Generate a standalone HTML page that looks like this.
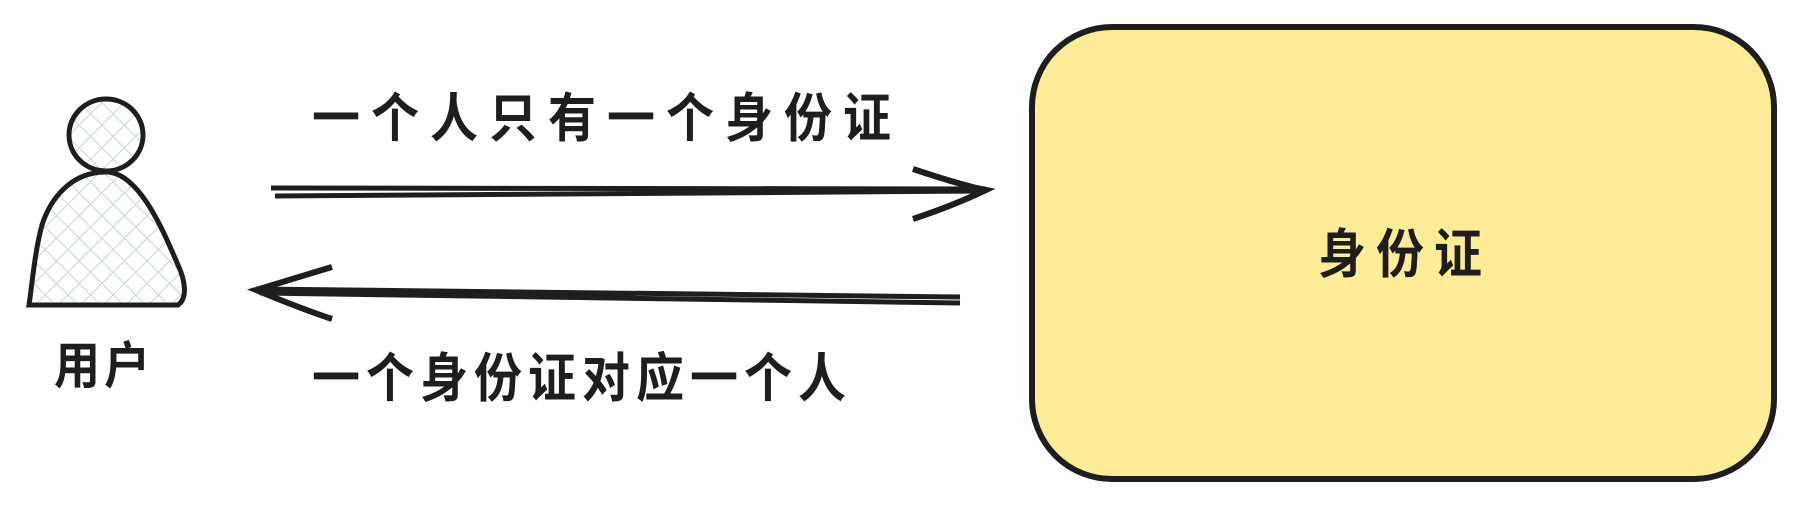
<!DOCTYPE html>
<html><head><meta charset="utf-8"><style>
html,body{margin:0;padding:0;background:#fff;width:1808px;height:513px;overflow:hidden}
svg{position:absolute;left:0;top:0}
.t{position:absolute;font-family:"Liberation Sans","Noto Sans CJK SC",sans-serif;color:#1e1e1e;white-space:nowrap;font-size:48px;line-height:1;transform:scaleY(1.1);font-weight:bold}
</style></head><body>
<svg width="1808" height="513" viewBox="0 0 1808 513">
<defs><pattern id="h" width="16" height="16" patternUnits="userSpaceOnUse" patternTransform="rotate(45)"><path d="M0 0H16M0 0V16" stroke="#ced4da" stroke-width="2"/></pattern></defs>
<rect x="1032" y="27" width="742" height="452" rx="80" fill="#ffec99" stroke="#1e1e1e" stroke-width="6"/>
<ellipse cx="106" cy="135" rx="37" ry="36" fill="url(#h)" stroke="#1e1e1e" stroke-width="5"/>
<path d="M106 172 C70 172 50 200 42 225 C35 250 32 285 29 305 L178 305 C188 298 185 280 178 265 C165 235 140 172 106 172 Z" fill="url(#h)" stroke="#1e1e1e" stroke-width="5"/>
<path d="M271 188 L986 189 M275 196 L986 191" stroke="#1e1e1e" stroke-width="5" fill="none"/>
<path d="M913 169 C940 178 965 186 986 190 C965 200 940 210 913 219" stroke="#1e1e1e" stroke-width="6" fill="none"/>
<path d="M960 297 L256 289 M960 303 L260 293" stroke="#1e1e1e" stroke-width="5" fill="none"/>
<path d="M332 267 C305 275 280 283 256 290 C280 300 305 310 332 319" stroke="#1e1e1e" stroke-width="6" fill="none"/>
</svg>
<div class="t" style="left:312px;top:96px;letter-spacing:11px">一个人只有一个身份证</div>
<div class="t" style="left:312px;top:356px;letter-spacing:6px">一个身份证对应一个人</div>
<div class="t" style="left:54px;top:343px;font-size:46px;letter-spacing:4px">用户</div>
<div class="t" style="left:1318px;top:232px;letter-spacing:10px">身份证</div>
</body></html>
